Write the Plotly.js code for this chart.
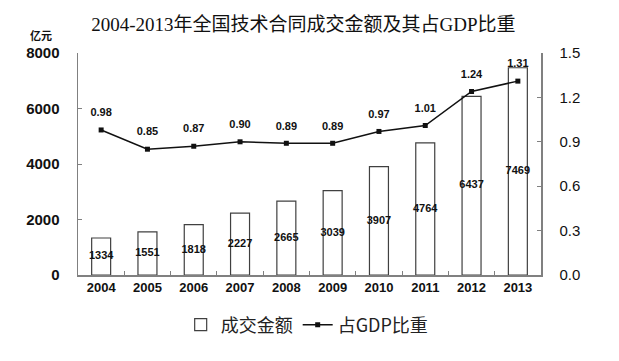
<!DOCTYPE html>
<html><head><meta charset="utf-8">
<script src="https://cdn.plot.ly/plotly-3.0.1.min.js"></script>
<style>html,body{margin:0;padding:0;background:#fff;}</style>
</head><body>
<div id="chart" style="width:619px;height:361px;"></div>
<script>
const years = ['2004','2005','2006','2007','2008','2009','2010','2011','2012','2013'];
const amounts = [1334,1551,1818,2227,2665,3039,3907,4764,6437,7469];
const gdpShare = [0.98,0.85,0.87,0.90,0.89,0.89,0.97,1.01,1.24,1.31];
const shareLabels = ['0.98','0.85','0.87','0.90','0.89','0.89','0.97','1.01','1.24','1.31'];
const leftTicks = [0,2000,4000,6000,8000];
const rightTicks = [0,0.3,0.6,0.9,1.2,1.5];
const rightTickText = ['0.0','0.3','0.6','0.9','1.2','1.5'];

const sans = 'Liberation Sans, Arial, Noto Sans CJK SC, sans-serif';
const cjk = 'Noto Sans CJK SC, sans-serif';

const traces = [
  {
    type:'bar', x: years, y: amounts, name:'成交金额',
    marker:{color:'#ffffff', line:{color:'#404040', width:1.2}},
    width:0.41, hoverinfo:'skip'
  },
  {
    type:'scatter', mode:'text', x: years, y: amounts.map(v=>v/2),
    text: amounts.map(String), textposition:'middle center',
    textfont:{family:sans, size:11, color:'#111', weight:'bold'}, showlegend:false, hoverinfo:'skip'
  },
  {
    type:'scatter', mode:'lines+markers', x: years, y: gdpShare, yaxis:'y2',
    name:'占GDP比重',
    line:{color:'#111', width:1.5}, marker:{symbol:'square', size:5, color:'#111'},
    hoverinfo:'skip'
  },
  {
    type:'scatter', mode:'markers+text', x: years, y: gdpShare, yaxis:'y2',
    text: shareLabels, textposition:'top center', showlegend:false,
    marker:{size:16, opacity:0, color:'#fff'},
    textfont:{family:sans, size:11, color:'#111', weight:'bold'}, hoverinfo:'skip'
  }
];

const layout = {
  width:619, height:361,
  margin:{l:78, r:78, t:53, b:86},
  paper_bgcolor:'#fff', plot_bgcolor:'#fff',
  showlegend:true,
  title:{text:'2004-2013年全国技术合同成交金额及其占GDP比重',
    font:{family:'Liberation Serif, Noto Sans CJK SC, serif', size:19, color:'#111'},
    x:0.49, xanchor:'center', y:1-24/361, yanchor:'middle', yref:'container'},
  xaxis:{type:'category', range:[-0.5, years.length-0.5], autorange:false,
    showgrid:false, showline:true, linecolor:'#808080', linewidth:1.5,
    ticks:'inside', tickson:'boundaries', ticklen:4, tickcolor:'#808080',
    tickfont:{family:sans, size:13, color:'#111', weight:'bold'}, zeroline:false, fixedrange:true},
  yaxis:{range:[0,8000], tickvals:leftTicks, showgrid:false, zeroline:false, showline:true,
    linecolor:'#808080', linewidth:1.5, ticks:'inside', ticklen:4, tickcolor:'#808080',
    tickfont:{family:sans, size:15, color:'#111', weight:'bold'}, ticklabelstandoff:14},
  yaxis2:{range:[0,1.5], overlaying:'y', side:'right', tickvals:rightTicks, ticktext:rightTickText,
    showgrid:false, zeroline:false, showline:true, linecolor:'#808080', linewidth:1.5,
    ticks:'inside', ticklen:4, tickcolor:'#808080',
    tickfont:{family:sans, size:15, color:'#111'}, ticklabelstandoff:14},
  legend:{orientation:'h', x:0.495, xanchor:'center', y:-0.225, yanchor:'middle',
    font:{family:cjk, size:18, color:'#222'}, itemwidth:30, bgcolor:'rgba(0,0,0,0)'},
  annotations:[{text:'亿元', xref:'paper', yref:'paper', x:-0.08, y:1.081,
    xanchor:'center', yanchor:'middle',
    showarrow:false, font:{family:cjk, size:11, color:'#111', weight:'bold'}}]
};

Plotly.newPlot('chart', traces, layout, {displayModeBar:false, staticPlot:true});
</script>
</body></html>
